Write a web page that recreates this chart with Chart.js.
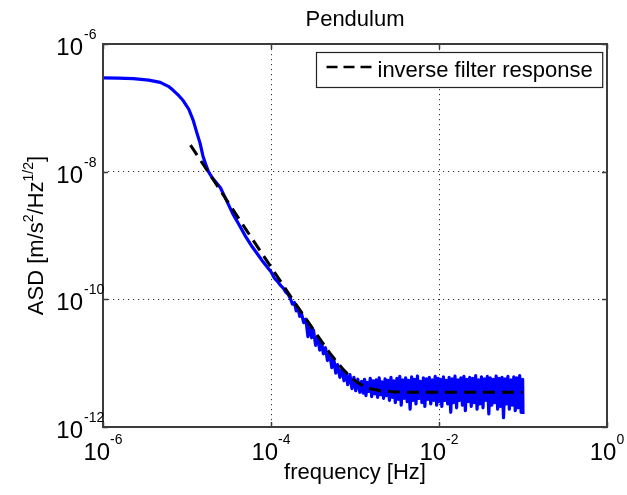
<!DOCTYPE html>
<html><head><meta charset="utf-8">
<script src="https://cdn.jsdelivr.net/npm/chart.js@4.4.1/dist/chart.umd.min.js"></script>
<style>html,body{margin:0;padding:0;background:#fff;}canvas{display:block;}</style>
</head><body>
<canvas id="c" width="627" height="495"></canvas>
<script>
// ---- chart text ----
const titleText = 'Pendulum';
const xAxisLabel = 'frequency [Hz]';
const legendLabel = 'inverse filter response';
const measLabel = 'measured ASD';
// y-axis label pieces: [text, isSuperscript]
const yAxisLabelParts = [['ASD [m/s', false], ['2', true], ['/Hz', false], ['1/2', true], [']', false]];

// ---- tick values ----
const xTicks = [1e-6, 1e-4, 1e-2, 1e0];
const yTicks = [1e-12, 1e-10, 1e-8, 1e-6];

// ---- measured pendulum ASD (blue) ----
const measFreq = [
 1.0e-6,1.5e-6,2.3e-6,3.5e-6,4.8e-6,6.0e-6,6.8e-6,8.0e-6,9.0e-6,1.05e-5,
 1.18e-5,1.3e-5,1.43e-5,1.55e-5,1.7e-5,1.8e-5,2.0e-5,2.5e-5,3.0e-5,3.5e-5,
 4.2e-5,5.0e-5,6.0e-5,7.0e-5,8.0e-5,9.0e-5,1.0e-4,1.1e-4,1.2e-4,1.3e-4,
 1.4e-4,1.5e-4,1.6e-4,1.7e-4,
 1.8e-4,1.9e-4,2.0e-4,2.1e-4,2.2e-4,2.3e-4,2.45e-4,2.6e-4,2.75e-4,2.9e-4,
 3.05e-4,3.2e-4,3.4e-4,3.6e-4,3.8e-4,4.0e-4,4.2e-4,4.45e-4,4.7e-4,5.0e-4,
 5.3e-4,5.6e-4,5.9e-4,6.2e-4,6.6e-4,7.0e-4,7.4e-4,7.8e-4,8.2e-4,8.7e-4,
 9.2e-4,9.7e-4,1.02e-3,1.08e-3,1.14e-3,
 1.2e-3,1.25e-3,1.3e-3,1.35e-3,1.4e-3,1.46e-3,1.52e-3,1.58e-3,1.65e-3,1.72e-3,
 1.79e-3,1.86e-3,1.94e-3,2.02e-3,2.1e-3,2.19e-3,2.28e-3,2.37e-3,2.47e-3,2.57e-3,
 2.68e-3,2.79e-3,2.9e-3,3.02e-3,3.15e-3,3.28e-3,3.41e-3,3.55e-3,3.7e-3,3.85e-3,
 4.01e-3,4.18e-3,4.35e-3,4.53e-3,4.72e-3,4.91e-3,5.11e-3,5.32e-3,5.54e-3,5.77e-3,
 6.01e-3,6.26e-3,6.52e-3,6.79e-3,7.07e-3,7.36e-3,7.66e-3,7.98e-3,8.31e-3,8.65e-3,
 9.01e-3,9.38e-3,9.77e-3,
 1.0e-2,1.04e-2,1.08e-2,1.13e-2,1.17e-2,1.22e-2,1.27e-2,1.32e-2,1.38e-2,1.43e-2,
 1.49e-2,1.55e-2,1.62e-2,1.68e-2,1.75e-2,1.82e-2,1.9e-2,1.98e-2,2.06e-2,2.14e-2,
 2.23e-2,2.32e-2,2.42e-2,2.52e-2,2.62e-2,2.73e-2,2.84e-2,2.96e-2,3.08e-2,3.2e-2,
 3.34e-2,3.47e-2,3.62e-2,3.76e-2,3.92e-2,4.08e-2,4.25e-2,4.42e-2,4.6e-2,4.79e-2,
 4.99e-2,5.2e-2,5.41e-2,5.63e-2,5.86e-2,6.1e-2,6.35e-2,6.61e-2,6.88e-2,7.17e-2,
 7.46e-2,7.77e-2,8.09e-2,8.42e-2,8.77e-2,9.13e-2,9.5e-2,9.9e-2,1.0e-1
];
const measASD = [
 2.95e-7,2.93e-7,2.86e-7,2.72e-7,2.5e-7,2.17e-7,1.9e-7,1.55e-7,1.3e-7,9.5e-8,
 6.5e-8,4.2e-8,2.8e-8,1.75e-8,1.22e-8,1.0e-8,8.0e-9,5.6e-9,3.4e-9,2.2e-9,
 1.45e-9,9.6e-10,6.6e-10,5.0e-10,3.9e-10,3.2e-10,2.7e-10,2.15e-10,1.9e-10,1.65e-10,
 1.5e-10,1.3e-10,1.2e-10,1.03e-10,
 8.4e-11,8.9e-11,6.6e-11,7.3e-11,5.4e-11,6.1e-11,4.3e-11,4.9e-11,2.6e-11,4.0e-11,
 2.5e-11,3.3e-11,1.9e-11,2.6e-11,1.6e-11,2.15e-11,1.4e-11,1.75e-11,1.1e-11,1.4e-11,
 8.5e-12,1.15e-11,7.0e-12,9.5e-12,6.0e-12,8.2e-12,5.3e-12,7.2e-12,4.6e-12,6.6e-12,
 4.0e-12,6.0e-12,3.7e-12,5.6e-12,3.5e-12,
 5.2e-12,3.4e-12,5.6e-12,3.1e-12,5.0e-12,3.6e-12,5.8e-12,3.0e-12,5.3e-12,3.3e-12,
 5.5e-12,2.9e-12,5.9e-12,3.2e-12,5.1e-12,2.8e-12,5.7e-12,3.1e-12,5.4e-12,
 2.6e-12,6.0e-12,2.9e-12,5.3e-12,2.4e-12,5.8e-12,2.7e-12,6.2e-12,2.2e-12,5.5e-12,
 2.8e-12,5.9e-12,2.5e-12,5.4e-12,1.9e-12,6.1e-12,2.6e-12,5.6e-12,2.3e-12,6.3e-12,
 2.8e-12,5.2e-12,2.4e-12,5.9e-12,2.1e-12,5.7e-12,2.7e-12,6.0e-12,2.3e-12,5.5e-12,
 2.6e-12,6.2e-12,2.2e-12,5.8e-12,
 2.5e-12,5.6e-12,2.1e-12,6.1e-12,2.6e-12,5.4e-12,2.3e-12,6.0e-12,1.7e-12,5.7e-12,
 2.4e-12,6.3e-12,2.0e-12,5.5e-12,2.6e-12,5.9e-12,2.2e-12,6.2e-12,1.8e-12,5.6e-12,
 2.5e-12,6.0e-12,2.1e-12,5.8e-12,2.4e-12,6.4e-12,1.9e-12,5.5e-12,2.3e-12,6.1e-12,
 2.0e-12,5.7e-12,2.6e-12,6.2e-12,1.6e-12,5.9e-12,2.2e-12,5.6e-12,2.4e-12,6.3e-12,
 1.9e-12,5.8e-12,2.1e-12,6.0e-12,1.4e-12,5.7e-12,2.3e-12,6.2e-12,1.9e-12,5.5e-12,
 2.2e-12,6.1e-12,1.8e-12,5.9e-12,2.0e-12,6.4e-12,1.7e-12,5.6e-12,1.6e-12
];

// ---- inverse filter response (black dashed) ----
const filterFreq = [1.1e-5,2e-5,5e-5,1e-4,2e-4,3e-4,4e-4,5e-4,6e-4,7e-4,8.5e-4,1e-3,1.25e-3,1.5e-3,2e-3,3e-3,5e-3,1e-2,1e-1];
const filterASD  = [2.6e-8,7.9e-9,1.26e-9,3.2e-10,8.2e-11,3.8e-11,2.2e-11,1.45e-11,1.07e-11,8.4e-12,6.4e-12,5.3e-12,4.4e-12,4.0e-12,3.7e-12,3.55e-12,3.5e-12,3.5e-12,3.5e-12];

const FONT = '"Liberation Sans", Arial, Helvetica, sans-serif';
Chart.defaults.font.family = FONT;

const frameColor = '#3c3c3c';

function expParts(v) { return ['10', String(Math.round(Math.log10(v)))]; }

const matlabPlugin = {
  id: 'matlabPlugin',
  afterDraw(chart) {
    const ctx = chart.ctx, a = chart.chartArea;
    const xs = chart.scales.x, ys = chart.scales.y;
    ctx.save();
    // frame
    ctx.strokeStyle = frameColor; ctx.lineWidth = 2; ctx.setLineDash([]);
    ctx.strokeRect(a.left, a.top, a.right - a.left, a.bottom - a.top);
    // inward ticks
    ctx.lineWidth = 1.5;
    const tl = 5;
    xTicks.forEach(v => {
      const px = Math.round(xs.getPixelForValue(v)) + 0.5;
      ctx.beginPath();
      ctx.moveTo(px, a.bottom); ctx.lineTo(px, a.bottom - tl);
      ctx.moveTo(px, a.top); ctx.lineTo(px, a.top + tl);
      ctx.stroke();
    });
    yTicks.forEach(v => {
      const py = Math.round(ys.getPixelForValue(v)) + 0.5;
      ctx.beginPath();
      ctx.moveTo(a.left, py); ctx.lineTo(a.left + tl, py);
      ctx.moveTo(a.right, py); ctx.lineTo(a.right - tl, py);
      ctx.stroke();
    });
    // tick labels with exponents
    ctx.fillStyle = '#000'; ctx.textBaseline = 'alphabetic';
    xTicks.forEach(v => {
      const [b, s] = expParts(v);
      const px = xs.getPixelForValue(v);
      ctx.font = '24px ' + FONT; const wb = ctx.measureText(b).width;
      ctx.font = '14px ' + FONT; const ws = ctx.measureText(s).width;
      const x0 = px - (wb + ws) / 2;
      ctx.textAlign = 'left';
      ctx.font = '24px ' + FONT; ctx.fillText(b, x0, a.bottom + 33);
      ctx.font = '14px ' + FONT; ctx.fillText(s, x0 + wb, a.bottom + 17);
    });
    yTicks.forEach(v => {
      const [b, s] = expParts(v);
      const py = ys.getPixelForValue(v);
      ctx.font = '24px ' + FONT; ctx.textAlign = 'right';
      ctx.fillText(b, a.left - 20, py + 11);
      ctx.font = '14px ' + FONT; ctx.textAlign = 'left';
      ctx.fillText(s, a.left - 19, py - 5);
    });
    // y axis label (rotated, with superscripts)
    ctx.save();
    ctx.translate(35, (a.top + a.bottom) / 2);
    ctx.rotate(-Math.PI / 2);
    let total = 0;
    const widths = yAxisLabelParts.map(([t, sup]) => {
      ctx.font = (sup ? '14px ' : '22px ') + FONT;
      const w = ctx.measureText(t).width; total += w; return w;
    });
    let x = -total / 2;
    ctx.textAlign = 'left';
    yAxisLabelParts.forEach(([t, sup], i) => {
      ctx.font = (sup ? '14px ' : '22px ') + FONT;
      ctx.fillText(t, x, sup ? 8 - 10 : 8);
      x += widths[i];
    });
    ctx.restore();
    // legend box
    ctx.font = '22px ' + FONT;
    const tw = ctx.measureText(legendLabel).width;
    const bw = 10 + 46 + 5 + tw + 10, bh = 35;
    const bx = Math.round(a.right - 5 - bw) + 0.5, by = a.top + 8.5;
    ctx.fillStyle = '#fff';
    ctx.fillRect(bx, by, bw, bh);
    ctx.strokeStyle = '#222'; ctx.lineWidth = 1.2;
    ctx.strokeRect(bx, by, bw, bh);
    const ds = chart.data.datasets[0];
    ctx.strokeStyle = ds.borderColor; ctx.lineWidth = 2.5;
    ctx.setLineDash([11, 6]);
    ctx.beginPath(); ctx.moveTo(bx + 10, by + 14.5); ctx.lineTo(bx + 56, by + 14.5); ctx.stroke();
    ctx.setLineDash([]);
    ctx.fillStyle = '#000'; ctx.textAlign = 'left';
    ctx.fillText(ds.label, bx + 61, by + 24.5);
    ctx.restore();
  }
};

new Chart(document.getElementById('c'), {
  type: 'line',
  data: {
    datasets: [
      {
        label: legendLabel,
        data: filterFreq.map((f, i) => ({x: f, y: filterASD[i]})),
        borderColor: '#000000', borderWidth: 3, borderDash: [12, 7],
        pointRadius: 0, tension: 0, fill: false, order: 0
      },
      {
        label: measLabel,
        data: measFreq.map((f, i) => ({x: f, y: measASD[i]})),
        borderColor: '#0000ff', borderWidth: 3.2, borderJoinStyle: 'round',
        pointRadius: 0, tension: 0, fill: false, order: 1
      }
    ]
  },
  options: {
    responsive: false, animation: false, devicePixelRatio: 1,
    layout: { padding: { left: 0, right: 20, top: 0, bottom: 0 } },
    plugins: {
      legend: { display: false },
      tooltip: { enabled: false },
      title: {
        display: true, text: titleText, color: '#000', fullSize: false,
        font: { size: 22, weight: 'normal', family: FONT, lineHeight: 1.2 },
        padding: { top: 7, bottom: 10.6 }
      }
    },
    scales: {
      x: {
        type: 'logarithmic', min: 1e-6, max: 1,
        afterBuildTicks: s => { s.ticks = xTicks.map(v => ({value: v})); },
        afterFit: s => { s.height = 68; },
        ticks: { display: false },
        grid: { color: '#333', lineWidth: 1, drawTicks: false },
        border: { display: false, dash: [1.2, 3.8] },
        title: { display: true, text: xAxisLabel, color: '#000',
                 font: { size: 22, family: FONT }, padding: { top: 0, bottom: 9 } }
      },
      y: {
        type: 'logarithmic', min: 1e-12, max: 1e-6,
        afterBuildTicks: s => { s.ticks = yTicks.map(v => ({value: v})); },
        afterFit: s => { s.width = 103; },
        ticks: { display: false },
        grid: { color: '#333', lineWidth: 1, drawTicks: false },
        border: { display: false, dash: [1.2, 3.8] }
      }
    }
  },
  plugins: [matlabPlugin]
});
</script>
</body></html>
